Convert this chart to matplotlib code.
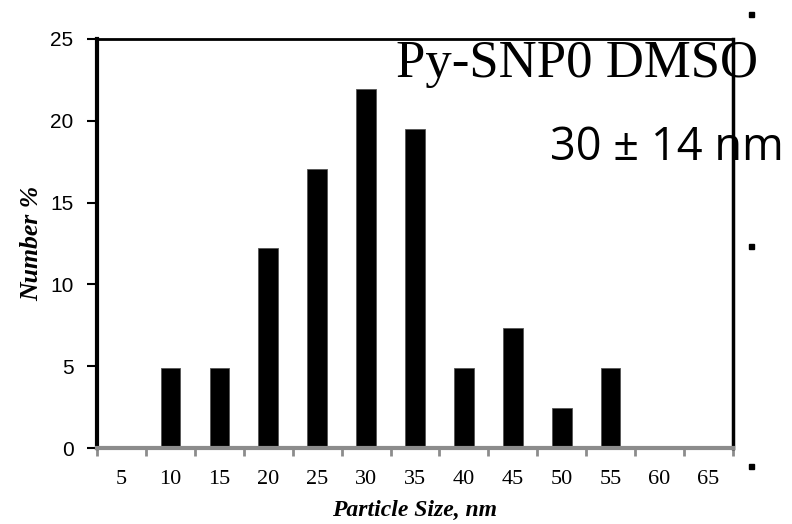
import matplotlib
matplotlib.use("Agg")
import matplotlib.pyplot as plt
import numpy as np

categories = ["5", "10", "15", "20", "25", "30", "35", "40", "45", "50", "55", "60", "65"]
number_pct = [0, 4.88, 4.88, 12.2, 17.07, 21.95, 19.51, 4.88, 7.32, 2.44, 4.88, 0, 0]
y_ticks = [0, 5, 10, 15, 20, 25]

W, H = 792, 524
fig = plt.figure(figsize=(W / 100, H / 100), dpi=100)
ax = fig.add_axes([97 / W, (H - 448) / H, (733 - 97) / W, (448 - 39) / H])

x = np.arange(len(categories))
ax.bar(x, number_pct, width=0.4, color="black", edgecolor="#555555", linewidth=0.6, zorder=2)

ax.set_xlim(-0.5, len(categories) - 0.5)
ax.set_ylim(0, 25)

# x: labels at centres, tick marks at category boundaries
ax.set_xticks(x)
ax.set_xticklabels(categories, family="Liberation Serif", fontsize=16)
ax.tick_params(axis="x", which="major", length=0, pad=16)
ax.set_xticks(np.arange(-0.5, len(categories)), minor=True)
ax.tick_params(axis="x", which="minor", length=6, width=2, color="#8c8c8c", direction="out")

ax.set_yticks(y_ticks)
ax.set_yticklabels([str(v) for v in y_ticks], family="Liberation Sans", fontsize=15)
ax.tick_params(axis="y", length=7, width=1.5, color="black", direction="out", pad=10)

ax.spines["left"].set_linewidth(3)
ax.spines["left"].set_color("black")
ax.spines["bottom"].set_linewidth(3)
ax.spines["bottom"].set_color("#8c8c8c")
ax.spines["top"].set_linewidth(2)
ax.spines["top"].set_color("black")
ax.spines["right"].set_linewidth(2.5)
ax.spines["right"].set_color("black")

fig.text(414.5 / W, 1 - 516 / H, "Particle Size, nm", family="Liberation Serif",
         fontweight="bold", style="italic", fontsize=17, ha="center", va="baseline")
fig.text(38 / W, 1 - 243 / H, "Number %", family="Liberation Serif",
         fontweight="bold", style="italic", fontsize=18.5, ha="center", va="baseline",
         rotation=90, rotation_mode="anchor")

fig.text(396 / W, 1 - 77 / H, "Py-SNP0 DMSO", family="Liberation Serif",
         fontsize=38, ha="left", va="baseline", zorder=5)
fig.text(550 / W, 1 - 160 / H, "30 ± 14 nm", family="Open Sans",
         fontsize=32.5, ha="left", va="baseline", zorder=5)

# small selection handles to the right of the chart
for yy in [14, 246, 466]:
    fig.patches.append(plt.Rectangle(((751 - 2.5) / W, 1 - (yy + 2.5) / H), 5 / W, 5 / H,
                                     transform=fig.transFigure, color="black", figure=fig))

fig.savefig("out.png", dpi=100)
